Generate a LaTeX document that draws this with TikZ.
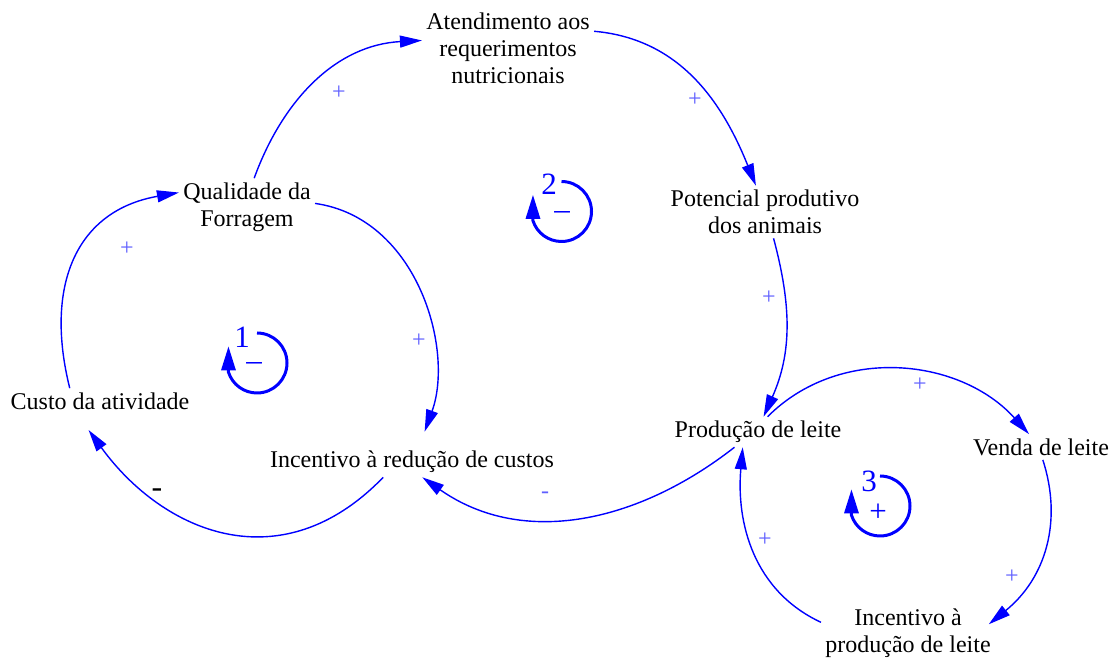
\documentclass[tikz,border=0pt]{standalone}
\usepackage{fontspec}
\setmainfont{Liberation Serif}
\usetikzlibrary{arrows.meta}
\definecolor{polblue}{RGB}{95,95,255}

\begin{document}
\begin{tikzpicture}[x=0.5pt,y=0.5pt,
  var/.style={align=center,inner sep=2pt,font=\fontsize{12}{13.5}\selectfont},
  link/.style={blue,line width=0.7pt,-{Triangle[length=11pt,width=6pt]}},
  pol/.style={text=polblue,inner sep=0pt,font=\fontsize{12}{12}\selectfont},
  loopsym/.style={blue,line width=1.5pt,-{Triangle[length=12pt,width=7pt]}},
  looplbl/.style={text=blue,inner sep=0pt,font=\fontsize{15.5}{15.5}\selectfont}]
\path[fill=white] (0,0) rectangle (1120,-659);
% Variables
\node[var] (atend) at (508,-48) {Atendimento aos\\requerimentos\\nutricionais};
\node[var] (qual) at (247,-207) {Qualidade da\\Forragem};
\node[var] (pot) at (765,-212) {Potencial produtivo\\dos animais};
\node[var] (custo) at (100,-401) {Custo da atividade};
\node[var] (incred) at (412,-462) {Incentivo à redução de custos};
\node[var] (prod) at (758,-432) {Produção de leite};
\node[var] (venda) at (1041,-447) {Venda de leite};
\node[var] (incprod) at (908,-633) {Incentivo à\\produção de leite};
% Causal links
\draw[link] (qual.76) to[out=70,in=183] (atend.175);
\draw[link] (atend.11) to[out=-5,in=112] (pot.109);
\draw[link] (pot.-72) to[out=-75,in=66] (prod.70);
\draw[link] (prod.213) to[out=218,in=-35] (incred.-56);
\draw[link,shorten >=10pt,looseness=1.2] (incred.208) to[out=226,in=-54] (custo.209);
\draw[link,looseness=1.2] (custo.157) to[out=104,in=190] (qual.168);
\draw[link,shorten >=8pt] (qual.3) to[out=-8,in=70] (incred.65);
\draw[link] (prod.58) to[out=45,in=132] (venda.133);
\draw[link,shorten >=-4pt] (venda.-82) to[out=-72,in=39] (incprod.9);
\draw[link] (incprod.173) to[out=155,in=-95] (prod.225);
% Link polarities
\node[pol] (s1) at (339,-93) {+};
\node[pol] (s2) at (695,-100) {+};
\node[pol] (s3) at (769,-298) {+};
\node[pol] (s4) at (545,-495) {-};
\node[inner sep=0pt,font=\fontsize{16}{16}\selectfont] (s5) at (157,-493) {-};
\node[pol] (s6) at (127,-249) {+};
\node[pol] (s7) at (419,-341) {+};
\node[pol] (s8) at (920,-385) {+};
\node[pol] (s9) at (1012,-577) {+};
\node[pol] (s10) at (765,-540) {+};
% Loop markers
\draw[loopsym] (257,-333) arc[start angle=90,end angle=-162,radius=30] -- ++(0,26);
\node[looplbl] (n1) at (242,-337) {1};
\node[looplbl] (m1) at (254,-367) {--};
\draw[loopsym] (561.5,-181.5) arc[start angle=90,end angle=-162,radius=30] -- ++(0,26);
\node[looplbl] (n2) at (549,-184) {2};
\node[looplbl] (m2) at (562,-216) {--};
\draw[loopsym] (880,-476) arc[start angle=90,end angle=-162,radius=30] -- ++(0,26);
\node[looplbl] (n3) at (869,-481) {3};
\node[looplbl] (m3) at (878,-513) {+};
\end{tikzpicture}
\end{document}
